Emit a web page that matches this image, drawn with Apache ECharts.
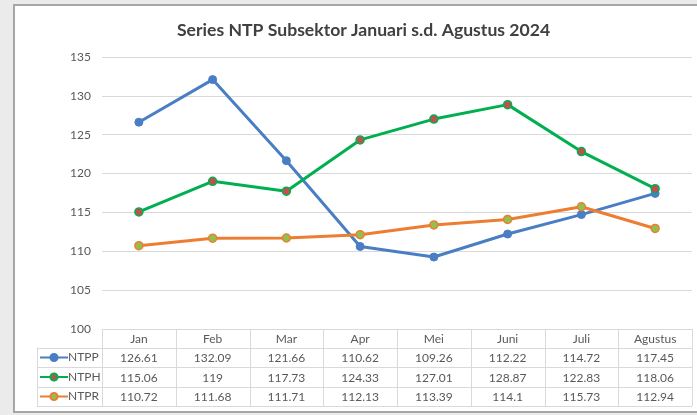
<!DOCTYPE html>
<html>
<head>
<meta charset="utf-8">
<script src="https://cdn.jsdelivr.net/npm/echarts@6/dist/echarts.min.js"></script>
<style>
html, body { margin: 0; padding: 0; background: #ebebeb; }
#main { width: 697px; height: 415px; }
</style>
</head>
<body>
<div id="main"></div>
<script>
// data
var bulan = ['Jan', 'Feb', 'Mar', 'Apr', 'Mei', 'Juni', 'Juli', 'Agustus'];
var ntpp = [126.61, 132.09, 121.66, 110.62, 109.26, 112.22, 114.72, 117.45];
var ntph = [115.06, 119, 117.73, 124.33, 127.01, 128.87, 122.83, 118.06];
var ntpr = [110.72, 111.68, 111.71, 112.13, 113.39, 114.1, 115.73, 112.94];
var seriesNames = ['NTPP', 'NTPH', 'NTPR'];

var gridLeft = 102, gridRight = 5, gridTop = 57, gridBottom = 86;
var W = 697, H = 415;
var rowH = 19.5;
var textFont = 'Lato, "Open Sans", sans-serif';

var myChart = echarts.init(document.getElementById('main'));

// garis tabel data
function tableLines() {
	var els = [];
	var axisY = H - gridBottom;
	var top1 = axisY + 18.5; // baris pertama (NTPP)
	var xR = W - gridRight;
	var band = (xR - gridLeft) / bulan.length;
	var lineStyle = { stroke: '#d9d9d9', lineWidth: 1 };
	// horizontal
	for (var r = 0; r <= 3; r++) {
		var y = Math.round(top1 + r * rowH) + 0.5;
		els.push({ type: 'line', shape: { x1: 37, y1: y, x2: xR, y2: y }, style: lineStyle, silent: true });
	}
	// vertical
	for (var i = 0; i <= bulan.length; i++) {
		var x = Math.round(gridLeft + i * band) + 0.5;
		els.push({ type: 'line', shape: { x1: x, y1: axisY, x2: x, y2: top1 + 3 * rowH }, style: lineStyle, silent: true });
	}
	els.push({ type: 'line', shape: { x1: 37.5, y1: top1, x2: 37.5, y2: top1 + 3 * rowH }, style: lineStyle, silent: true });
	return els;
}

var option = {
	backgroundColor: '#ebebeb',
	animation: false,
	title: {
		text: 'Series NTP Subsektor Januari s.d. Agustus 2024',
		left: 172,
		top: 16,
		textStyle: { color: '#404040', fontSize: 17.6, fontWeight: 'bold', fontFamily: textFont }
	},
	graphic: [{
		type: 'rect',
		shape: { x: 14, y: 5, width: 700, height: 407 },
		style: { fill: '#ffffff', stroke: '#a6a6a6', lineWidth: 2 },
		silent: true,
		z: -10
	}].concat(tableLines()),
	legend: {
		orient: 'vertical',
		left: 39,
		top: H - gridBottom + 18.5 + 3,
		padding: 0,
		itemGap: rowH - 14,
		itemWidth: 28,
		itemHeight: 9,
		textStyle: { color: '#595959', fontSize: 12, fontFamily: textFont, lineHeight: 14, padding: [0, 0, 0, -5] },
		data: seriesNames
	},
	grid: { left: gridLeft, right: gridRight, top: gridTop, bottom: gridBottom },
	xAxis: {
		type: 'category',
		data: bulan,
		boundaryGap: true,
		axisLine: { show: true, lineStyle: { color: '#d9d9d9', width: 1 } },
		axisTick: { show: false },
		axisLabel: {
			margin: 0,
			interval: 0,
			color: '#595959',
			fontSize: 12,
			fontFamily: textFont,
			lineHeight: rowH,
			formatter: function(v, i) {
				return [v, ntpp[i], ntph[i], ntpr[i]].join('\n');
			}
		}
	},
	yAxis: {
		type: 'value',
		min: 100,
		max: 135,
		interval: 5,
		axisLine: { show: false },
		axisTick: { show: false },
		axisLabel: { color: '#595959', fontSize: 12, fontFamily: textFont, margin: 11 },
		splitLine: { lineStyle: { color: '#d9d9d9', width: 1 } }
	},
	series: [
		{
			name: 'NTPP',
			type: 'line',
			data: ntpp,
			symbol: 'circle',
			symbolSize: 8,
			lineStyle: { color: '#4a7ec4', width: 3 },
			itemStyle: { color: '#4a7ec4', borderColor: '#4a7ec4', borderWidth: 1 }
		},
		{
			name: 'NTPH',
			type: 'line',
			data: ntph,
			symbol: 'circle',
			symbolSize: 8,
			lineStyle: { color: '#00b050', width: 3 },
			itemStyle: { color: '#c0504d', borderColor: '#00b050', borderWidth: 1.5 }
		},
		{
			name: 'NTPR',
			type: 'line',
			data: ntpr,
			symbol: 'circle',
			symbolSize: 8,
			lineStyle: { color: '#ed7d31', width: 3 },
			itemStyle: { color: '#92c050', borderColor: '#ed7d31', borderWidth: 1.5 }
		}
	]
};

myChart.setOption(option);
</script>
</body>
</html>
